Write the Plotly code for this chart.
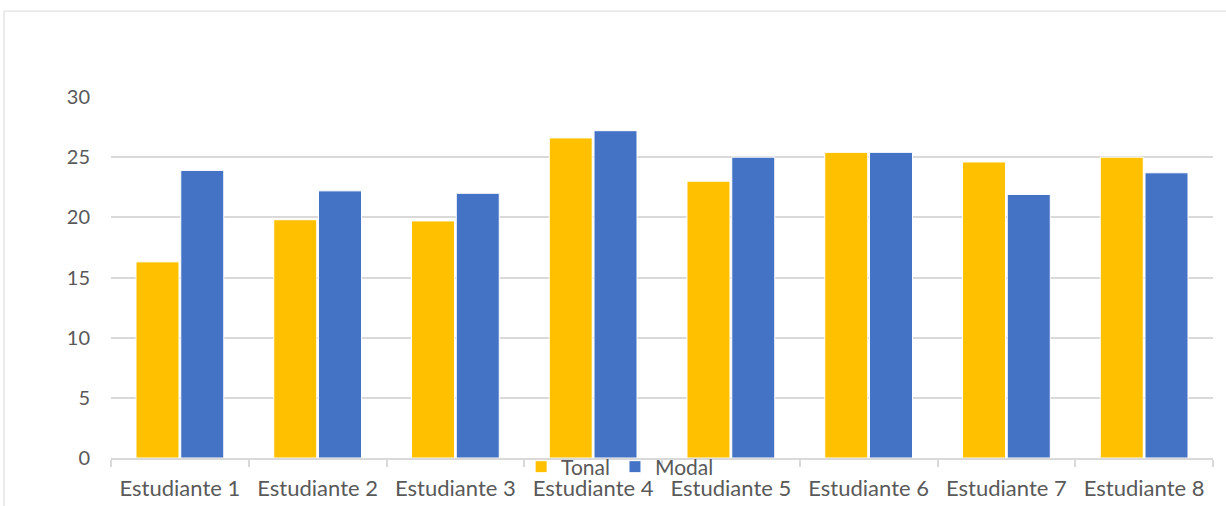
import plotly.graph_objects as go

categories = ["Estudiante 1", "Estudiante 2", "Estudiante 3", "Estudiante 4",
              "Estudiante 5", "Estudiante 6", "Estudiante 7", "Estudiante 8"]
tonal = [16.3, 19.8, 19.7, 26.6, 23.0, 25.4, 24.6, 25.0]
modal = [23.9, 22.2, 22.0, 27.2, 25.0, 25.4, 21.9, 23.7]
y_ticks = [0, 5, 10, 15, 20, 25, 30]

FONT = "Lato, Carlito, Calibri, sans-serif"
GRAY = "#595959"
LINE = "#d9d9d9"

fig = go.Figure()
fig.add_trace(go.Bar(name="Tonal", x=categories, y=tonal, marker_color="#FFC000",
                     marker_line=dict(color="white", width=1)))
fig.add_trace(go.Bar(name="Modal", x=categories, y=modal, marker_color="#4472C4",
                     marker_line=dict(color="white", width=1)))

fig.update_layout(
    width=1226, height=506,
    margin=dict(l=111, r=13, t=97, b=48, autoexpand=False),
    paper_bgcolor="white", plot_bgcolor="white",
    barmode="group", bargap=0.35, bargroupgap=0.04,
    font=dict(family=FONT, size=20, color=GRAY),
    legend=dict(orientation="h", x=0.462, xanchor="center", y=-0.025, yanchor="middle",
                bgcolor="rgba(0,0,0,0)", font=dict(size=21, color=GRAY),
                itemwidth=30, tracegroupgap=0),
    xaxis=dict(showline=True, linecolor=LINE, linewidth=1.5, ticks="outside",
               tickson="boundaries", ticklen=7, tickcolor=LINE, tickwidth=1.5,
               showgrid=False, tickfont=dict(size=22, color=GRAY),
               ticklabelstandoff=10, automargin=False),
    yaxis=dict(range=[0, 30], tickvals=y_ticks, showgrid=True, gridcolor=LINE,
               gridwidth=1.5, zeroline=False, showline=False, automargin=False,
               tickfont=dict(size=20, color=GRAY), ticklabelstandoff=20),
    shapes=[
        dict(type="line", xref="paper", yref="paper", x0=-0.0971, x1=1.02,
             y0=1.238, y1=1.238, line=dict(color=LINE, width=1)),
        dict(type="line", xref="paper", yref="paper", x0=-0.0971, x1=-0.0971,
             y0=1.238, y1=-0.2, line=dict(color=LINE, width=1)),
    ],
)

fig.write_html("out.html")
